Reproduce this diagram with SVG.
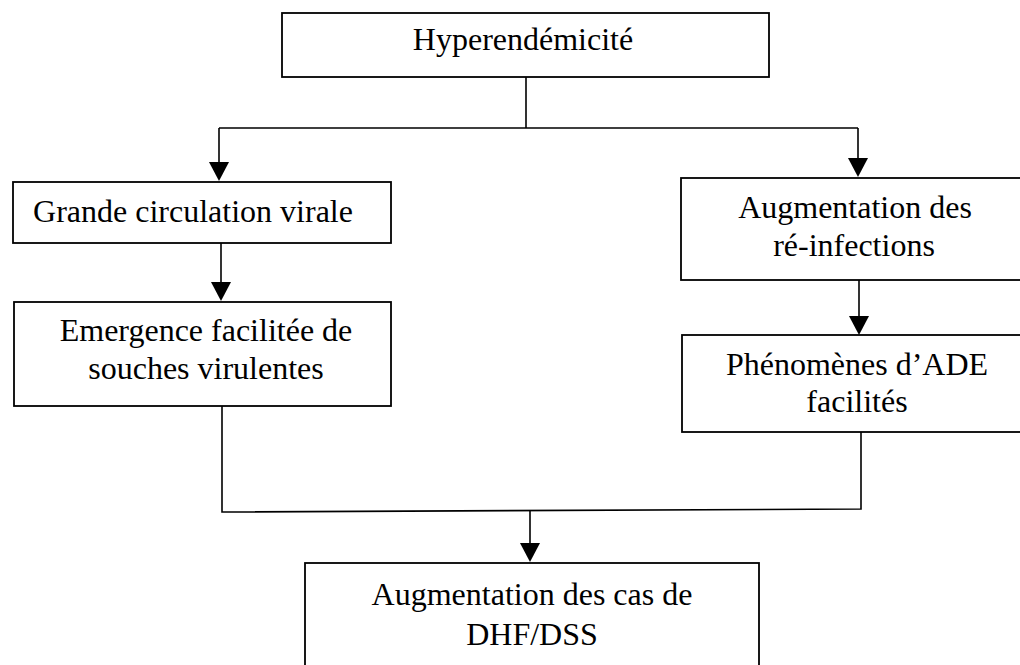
<svg xmlns="http://www.w3.org/2000/svg" width="1020" height="665" viewBox="0 0 1020 665">
  <style>
    .box { fill: #ffffff; stroke: #000000; stroke-width: 1.8; }
    .lbl { font-family: 'Liberation Serif', 'Times New Roman', serif; font-size: 32px; fill: #000000; text-anchor: middle; }
    .wire { fill: none; stroke: #000000; stroke-width: 1.6; }
    .head { fill: #000000; }
  </style>
  <rect width="1020" height="665" fill="#ffffff"/>

  <g id="connectors">
    <!-- split below the top box -->
    <path class="wire" d="M526,77 V128 M219,128 H858"/>
    <path class="wire" d="M219,128 V164"/>
    <path class="head" d="M209,162 L229,162 L219,181 Z"/>
    <path class="wire" d="M858,128 V160"/>
    <path class="head" d="M848,158 L868,158 L858,177 Z"/>
    <!-- left chain -->
    <path class="wire" d="M221,243 V284"/>
    <path class="head" d="M211,282 L231,282 L221,301 Z"/>
    <!-- right chain -->
    <path class="wire" d="M859,280 V318"/>
    <path class="head" d="M849,316 L869,316 L859,335 Z"/>
    <!-- merge into the bottom box -->
    <polyline class="wire" points="222,406 222,512 861,509 861,432"/>
    <path class="wire" d="M530,510 V545"/>
    <path class="head" d="M520,543 L540,543 L530,562 Z"/>
  </g>

  <g id="hyperendemicite">
    <rect class="box" x="282" y="13" width="487" height="64"/>
    <text class="lbl" x="523" y="50">Hyperendémicité</text>
  </g>

  <g id="grande-circulation">
    <rect class="box" x="13" y="182" width="378" height="61"/>
    <text class="lbl" x="193" y="222">Grande circulation virale</text>
  </g>

  <g id="emergence">
    <rect class="box" x="14" y="302" width="377" height="104"/>
    <text class="lbl" x="206" y="341">Emergence facilitée de</text>
    <text class="lbl" x="206" y="379">souches virulentes</text>
  </g>

  <g id="reinfections">
    <rect class="box" x="681" y="178" width="350" height="102"/>
    <text class="lbl" x="855" y="218">Augmentation des</text>
    <text class="lbl" x="854" y="256">ré-infections</text>
  </g>

  <g id="ade">
    <rect class="box" x="682" y="335" width="350" height="97"/>
    <text class="lbl" x="857" y="375">Phénomènes d’ADE</text>
    <text class="lbl" x="857" y="412">facilités</text>
  </g>

  <g id="dhf-dss">
    <rect class="box" x="305" y="563" width="454" height="120"/>
    <text class="lbl" x="532" y="605">Augmentation des cas de</text>
    <text class="lbl" x="532" y="645">DHF/DSS</text>
  </g>
</svg>
